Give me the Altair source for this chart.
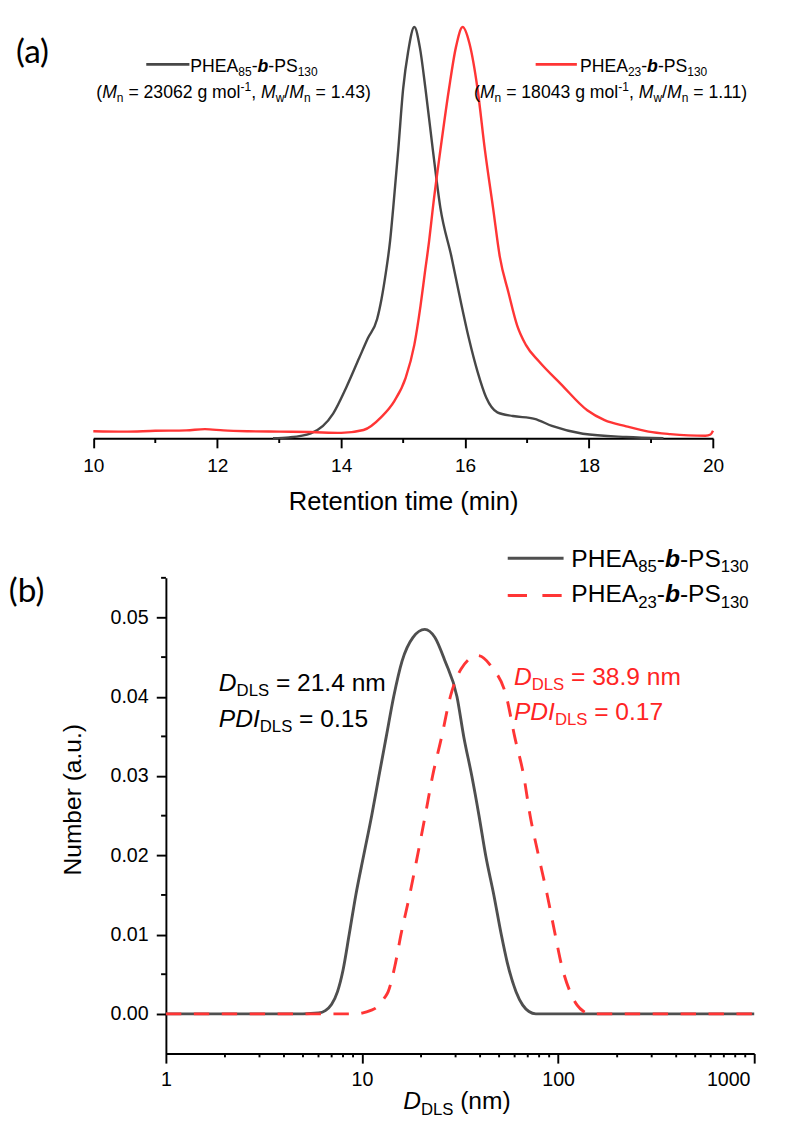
import altair as alt
import pandas as pd

# ---------------- data ----------------
# Panel (a): SEC traces (normalised intensity)
sec_black_t = [12.9, 13.16, 13.51, 13.87, 14.08, 14.29, 14.43, 14.58, 14.65, 14.72, 14.79, 14.84,
               14.92, 15.0, 15.08, 15.18, 15.27, 15.36, 15.48, 15.6, 15.78, 15.92, 16.06, 16.2,
               16.34, 16.52, 16.77, 17.12, 17.4, 17.9, 18.6, 19.2]
sec_black_y = [0.0, 0.002, 0.012, 0.060, 0.123, 0.195, 0.243, 0.29, 0.338, 0.402, 0.481, 0.561,
               0.70, 0.85, 0.94, 1.0, 0.95, 0.85, 0.70, 0.561, 0.441, 0.339, 0.243, 0.162,
               0.099, 0.063, 0.054, 0.047, 0.030, 0.011, 0.003, 0.0]
sec_red_t = [10.0, 10.5, 11.0, 11.5, 11.8, 12.1, 12.5, 13.0, 13.5, 14.0, 14.36, 14.65, 14.86,
             15.04, 15.18, 15.28, 15.35, 15.42, 15.48, 15.6, 15.74, 15.85, 15.96, 16.07, 16.2,
             16.32, 16.45, 16.56, 16.7, 16.84, 16.98, 17.19, 17.55, 17.97, 18.25, 18.6, 18.96,
             19.31, 19.6, 19.88, 19.96, 20.0]
sec_red_y = [0.017, 0.016, 0.018, 0.019, 0.022, 0.019, 0.017, 0.016, 0.015, 0.013, 0.02, 0.052,
             0.091, 0.147, 0.227, 0.322, 0.402, 0.481, 0.561, 0.70, 0.85, 0.95, 1.0, 0.96, 0.85,
             0.70, 0.561, 0.441, 0.354, 0.274, 0.227, 0.187, 0.131, 0.068, 0.044, 0.029, 0.016,
             0.010, 0.007, 0.006, 0.009, 0.018]

# Panel (b): DLS number distributions
dls_black_d = [1, 2, 3, 4, 5, 6, 6.5, 7, 7.5, 8, 8.6, 9.3, 10.2, 11.2, 12.2, 13.3, 14.5, 16, 18.2,
               20.9, 23.5, 26.5, 30.5, 33, 36.3, 39.5, 42.7, 47, 51.3, 55, 61, 66, 71, 77, 100,
               200, 500, 1000]
dls_black_n = [0, 0, 0, 0, 0, 0.0001, 0.0004, 0.0012, 0.0028, 0.0055, 0.010, 0.015, 0.020, 0.025,
               0.030, 0.035, 0.040, 0.0445, 0.0475, 0.0485, 0.0475, 0.0445, 0.040, 0.035, 0.030,
               0.025, 0.020, 0.015, 0.010, 0.0065, 0.0028, 0.0011, 0.0003, 0, 0, 0, 0, 0]
dls_red_d = [1, 2, 3, 5, 7, 9.5, 10, 11, 12, 13, 13.6, 14.7, 15.8, 17.5, 19.2, 21, 22.9, 25.5,
             28.2, 32, 38.9, 46, 54.5, 60, 66.8, 72, 79.4, 88, 96.6, 104, 115, 125, 135, 145,
             200, 400, 700, 1000]
dls_red_n = [0, 0, 0, 0, 0, 0, 0.0001, 0.0004, 0.0009, 0.002, 0.0028, 0.006, 0.010, 0.015, 0.020,
             0.025, 0.030, 0.035, 0.040, 0.0435, 0.0452, 0.0437, 0.040, 0.035, 0.030, 0.025,
             0.020, 0.015, 0.010, 0.0062, 0.0028, 0.0011, 0.0003, 0, 0, 0, 0, 0]

# tick values
a_major = [10, 12, 14, 16, 18, 20]
a_minor = [11, 13, 15, 17, 19]
bx_major = [1, 10, 100, 1000]
bx_minor = [2, 3, 4, 5, 6, 7, 8, 9, 20, 30, 40, 50, 60, 70, 80, 90,
            200, 300, 400, 500, 600, 700, 800, 900]
by_major = [0.0, 0.01, 0.02, 0.03, 0.04, 0.05]
by_minor = [0.005, 0.015, 0.025, 0.035, 0.045, 0.055]

# text
name_85 = [("PHEA", "n"), ("85", "s"), ("-", "n"), ("b", "bi"), ("-", "n"), ("PS", "n"), ("130", "s")]
name_23 = [("PHEA", "n"), ("23", "s"), ("-", "n"), ("b", "bi"), ("-", "n"), ("PS", "n"), ("130", "s")]
mol_85 = [("(", "n"), ("M", "i"), ("n", "s"), (" = 23062 g mol", "n"), ("-1", "p"), (", ", "n"),
          ("M", "i"), ("w", "s"), ("/", "n"), ("M", "i"), ("n", "s"), (" = 1.43)", "n")]
mol_23 = [("(", "n"), ("M", "i"), ("n", "s"), (" = 18043 g mol", "n"), ("-1", "p"), (", ", "n"),
          ("M", "i"), ("w", "s"), ("/", "n"), ("M", "i"), ("n", "s"), (" = 1.11)", "n")]
dls_85 = [("D", "i"), ("DLS", "s"), (" = 21.4 nm", "n")]
pdi_85 = [("PDI", "i"), ("DLS", "s"), (" = 0.15", "n")]
dls_23 = [("D", "i"), ("DLS", "s"), (" = 38.9 nm", "n")]
pdi_23 = [("PDI", "i"), ("DLS", "s"), (" = 0.17", "n")]
xtitle_b = [("D", "i"), ("DLS", "s"), (" (nm)", "n")]

# ---------------- style ----------------
FONT = "Liberation Sans"
BLACK = "#474747"
RED = "#ff3535"
RED_TXT = "#ff2424"
WA, HA = 600, 427
WB, HB = 611, 494

W = {' ': 278, '(': 333, ')': 333, ',': 278, '-': 333, '.': 278, '/': 278, '=': 584,
     'A': 667, 'D': 722, 'E': 667, 'H': 722, 'I': 278, 'L': 556, 'M': 833, 'P': 667, 'S': 667,
     'a': 556, 'b': 556, 'g': 556, 'l': 222, 'm': 833, 'n': 556, 'o': 556, 'u': 556, 'w': 722}
for c in "0123456789":
    W[c] = 556


def tw(text, bold=False):
    return sum((611 if (bold and c == 'b') else W[c]) for c in text) / 1000.0


one = pd.DataFrame({"k": [0]})


def rich(segs, x0, y0, size, color):
    layers = []
    x = x0
    for text, kind in segs:
        fs = size
        dy = 0.0
        if kind in ("s", "p"):
            fs = size * 0.68
            dy = size * 0.22 if kind == "s" else -size * 0.40
        style = "italic" if kind in ("i", "bi") else "normal"
        weight = "bold" if kind == "bi" else "normal"
        lead = len(text) - len(text.lstrip(" "))
        xs = x + tw(" " * lead) * fs
        shown = text.strip(" ")
        if shown:
            layers.append(
                alt.Chart(one).mark_text(
                    align="left", baseline="alphabetic", font=FONT, fontSize=fs,
                    fontStyle=style, fontWeight=weight, color=color
                ).encode(x=alt.value(xs), y=alt.value(y0 + dy), text=alt.value(shown))
            )
        x += tw(text, kind == "bi") * fs
    return layers


def seg_rule(x1, x2, y, color, dash=None):
    kw = dict(color=color, strokeWidth=3, strokeCap="butt")
    if dash:
        kw["strokeDash"] = dash
    return alt.Chart(one).mark_rule(**kw).encode(x=alt.value(x1), x2=alt.value(x2), y=alt.value(y))


def panel_label(txt, x, y):
    return alt.Chart(one).mark_text(align="left", baseline="alphabetic", font="Lato",
                                    fontSize=34.6, color="black").encode(
        x=alt.value(x), y=alt.value(y), text=alt.value(txt))


# ---------------- panel (a) ----------------
xa = alt.Scale(domain=[10, 20], range=[-75.4, 568.2], nice=False, zero=False)
ya = alt.Scale(domain=[0, 1], nice=False, zero=False)
axis_a = alt.Axis(values=a_major, tickSize=10, tickWidth=2, tickColor="black",
                  domainColor="black", domainWidth=2, labelFont=FONT, labelFontSize=19.8,
                  labelColor="black", labelPadding=8.5, labelFlush=False, labelOverlap=False,
                  title="Retention time (min)", titleFont=FONT, titleFontSize=26.5,
                  titleFontWeight="normal", titleColor="black", titlePadding=15, grid=False)

df_ab = pd.DataFrame({"t": sec_black_t, "y": sec_black_y})
df_ar = pd.DataFrame({"t": sec_red_t, "y": sec_red_y})
df_am = pd.DataFrame({"v": a_minor})

line_ab = alt.Chart(df_ab).mark_line(color=BLACK, strokeWidth=2.5, interpolate="monotone",
                                     strokeJoin="round").encode(
    x=alt.X("t:Q", scale=xa, axis=axis_a), y=alt.Y("y:Q", scale=ya, axis=None))
line_ar = alt.Chart(df_ar).mark_line(color=RED, strokeWidth=2.5, interpolate="monotone",
                                     strokeJoin="round").encode(
    x=alt.X("t:Q", scale=xa, axis=axis_a), y=alt.Y("y:Q", scale=ya, axis=None))
minor_a = alt.Chart(df_am).mark_rule(color="black", strokeWidth=2).encode(
    x=alt.X("v:Q", scale=xa, axis=axis_a), y=alt.value(HA), y2=alt.value(HA + 5))

a_text = []
a_text += rich(name_85, 25.4, 46.3, 18.3, "black")
a_text += rich(mol_85, -72.3, 73.3, 18.3, "black")
a_text += rich(name_23, 430, 46.3, 18.3, "black")
a_text += rich(mol_23, 320, 73.3, 18.3, "black")

panel_a = alt.layer(
    minor_a, line_ab, line_ar,
    seg_rule(-20.4, 24.4, 38.7, BLACK), seg_rule(384, 426.8, 38.7, RED),
    panel_label("(a)", -155.8, 37.2),
    *a_text
).properties(width=WA, height=HA)

# ---------------- panel (b) ----------------
xb = alt.Scale(type="log", domain=[1, 1000], nice=False)
yb = alt.Scale(domain=[-0.005, 0.055], nice=False, zero=False)
axis_xb = alt.Axis(values=bx_major, format="d", tickSize=10, tickWidth=2, tickColor="black",
                   domainColor="black", domainWidth=2, labelFont=FONT, labelFontSize=20.4,
                   labelColor="black", labelPadding=7, labelFlush=False, labelOverlap=False,
                   labelOffset={"condition": {"test": "datum.value >= 1000", "value": -27},
                                "value": 0},
                   title=None, grid=False)
axis_yb = alt.Axis(values=by_major, format=".2f", tickSize=10, tickWidth=2, tickColor="black",
                   domainColor="black", domainWidth=2, labelFont=FONT, labelFontSize=20.4,
                   labelColor="black", labelPadding=8.4, labelFlush=False, labelOverlap=False,
                   title="Number (a.u.)", titleFont=FONT, titleFontSize=25.5,
                   titleFontWeight="normal", titleColor="black", titlePadding=26,
                   titleY=230, grid=False)

df_bb = pd.DataFrame({"d": dls_black_d, "n": dls_black_n})
df_br = pd.DataFrame({"d": dls_red_d, "n": dls_red_n})
df_bxm = pd.DataFrame({"v": bx_minor})
df_bym = pd.DataFrame({"v": by_minor})

line_bb = alt.Chart(df_bb).mark_line(color="#4f4f4f", strokeWidth=3, interpolate="monotone",
                                     strokeJoin="round").encode(
    x=alt.X("d:Q", scale=xb, axis=axis_xb), y=alt.Y("n:Q", scale=yb, axis=axis_yb))
line_br = alt.Chart(df_br).mark_line(color=RED, strokeWidth=3, strokeDash=[16, 13],
                                     interpolate="monotone", strokeJoin="round").encode(
    x=alt.X("d:Q", scale=xb, axis=axis_xb), y=alt.Y("n:Q", scale=yb, axis=axis_yb))
minor_bx = alt.Chart(df_bxm).mark_rule(color="black", strokeWidth=2).encode(
    x=alt.X("v:Q", scale=xb, axis=axis_xb), y=alt.value(HB), y2=alt.value(HB + 4))
minor_by = alt.Chart(df_bym).mark_rule(color="black", strokeWidth=2).encode(
    y=alt.Y("v:Q", scale=yb, axis=axis_yb), x=alt.value(0), x2=alt.value(-5))

b_text = []
b_text += rich(name_85, 421, -11.2, 25.5, "black")
b_text += rich(name_23, 421, 25.4, 25.5, "black")
b_text += rich(dls_85, 55, 117.1, 25.5, "black")
b_text += rich(pdi_85, 55, 154.8, 25.5, "black")
b_text += rich(dls_23, 361.5, 111, 25.5, RED_TXT)
b_text += rich(pdi_23, 361.5, 147.7, 25.5, RED_TXT)
b_text += rich(xtitle_b, 246.4, 552, 25.5, "black")

panel_b = alt.layer(
    minor_bx, minor_by, line_bb, line_br,
    seg_rule(355, 413, -20.4, "#4f4f4f"), seg_rule(355, 413, 18.3, RED, [20, 16]),
    panel_label("(b)", -163.1, 25),
    *b_text
).properties(width=WB, height=HB)

chart = alt.vconcat(panel_a, panel_b, spacing=145, bounds="flush").properties(
    padding={"left": 0, "top": -4, "right": 0, "bottom": 0}
).configure_view(stroke=None)

chart.save("out.html", embed_options={"renderer": "svg", "actions": False})
